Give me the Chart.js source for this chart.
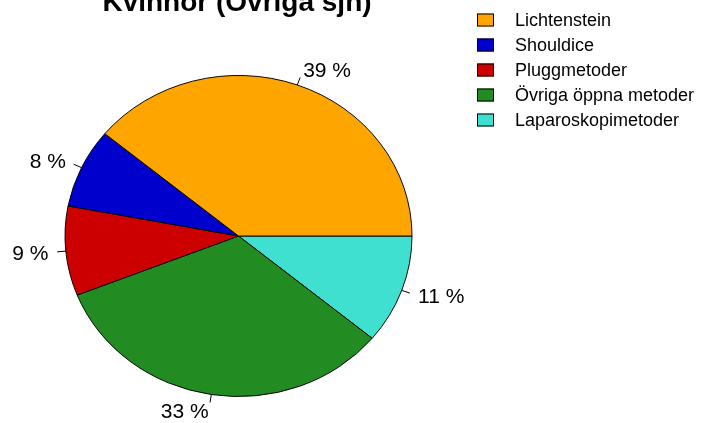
<!DOCTYPE html>
<html>
<head>
<meta charset="utf-8">
<script src="https://cdn.jsdelivr.net/npm/chart.js@4"></script>
<style>
html,body{margin:0;padding:0;background:#fff}
#wrap{width:703px;height:423px}
</style>
</head>
<body>
<div id="wrap"><canvas id="pie" width="703" height="423"></canvas></div>
<script>
// data, in the order of the legend (R draws it counterclockwise from 3 o'clock)
const methods = ['Lichtenstein', 'Shouldice', 'Pluggmetoder', 'Övriga öppna metoder', 'Laparoskopimetoder'];
const shares = [39, 8, 9, 33, 11];
const colors = ['#FFA500', '#0000CD', '#CD0000', '#228B22', '#40E0D0'];
const chartTitle = 'Kvinnor (Övriga sjh)';

const FONT = '"Liberation Sans", Arial, Helvetica, sans-serif';
const SQUASH = 161 / 174; // pie is a bit flatter than wide
const LABEL_PX = 21;

// Chart.js goes clockwise, so feed it reversed to get R's counterclockwise order
const drawOrder = shares.map((v, i) => i).reverse();

function centre(chart) {
  const arc = chart.getDatasetMeta(0).data[0];
  return {x: arc.x, y: arc.y, r: arc.outerRadius};
}

const squash = {
  id: 'squash',
  beforeDatasetsDraw(chart) {
    const c = centre(chart), ctx = chart.ctx;
    ctx.save();
    ctx.translate(c.x, c.y);
    ctx.scale(1, SQUASH);
    ctx.translate(-c.x, -c.y);
  },
  afterDatasetsDraw(chart) {
    chart.ctx.restore();
  }
};

const extras = {
  id: 'extras',
  afterDraw(chart) {
    const ctx = chart.ctx;
    const c = centre(chart);
    const meta = chart.getDatasetMeta(0);

    // slice labels with little ticks
    ctx.save();
    ctx.strokeStyle = '#000';
    ctx.lineWidth = 1;
    ctx.fillStyle = '#000';
    ctx.font = LABEL_PX + 'px ' + FONT;
    ctx.textBaseline = 'alphabetic';
    meta.data.forEach((arc, j) => {
      const k = drawOrder[j];
      const m = (arc.startAngle + arc.endAngle) / 2;
      const px = f => c.x + c.r * f * Math.cos(m);
      const py = f => c.y + c.r * f * Math.sin(m) * SQUASH;
      ctx.beginPath();
      ctx.moveTo(px(1), py(1));
      ctx.lineTo(px(1.05), py(1.05));
      ctx.stroke();
      ctx.textAlign = Math.cos(m) < 0 ? 'right' : 'left';
      // centre the digits' height on the anchor, as R does
      ctx.fillText(shares[k] + ' %', px(1.1), py(1.1) + LABEL_PX * 0.36);
    });

    // title, mostly above the top edge like the original
    ctx.font = 'bold 28px ' + FONT;
    ctx.textAlign = 'center';
    ctx.fillText(chartTitle, 237, 11);

    // legend
    ctx.font = '18px ' + FONT;
    ctx.textAlign = 'left';
    ctx.textBaseline = 'middle';
    methods.forEach((name, i) => {
      const y = 20 + i * 25;
      ctx.fillStyle = colors[i];
      ctx.fillRect(477, y - 6.5, 17, 13);
      ctx.strokeStyle = '#000';
      ctx.strokeRect(477.5, y - 6, 16, 12);
      ctx.fillStyle = '#000';
      ctx.fillText(name, 515, y + 1);
    });
    ctx.restore();
  }
};

new Chart(document.getElementById('pie'), {
  type: 'pie',
  data: {
    labels: drawOrder.map(i => methods[i]),
    datasets: [{
      data: drawOrder.map(i => shares[i]),
      backgroundColor: drawOrder.map(i => colors[i]),
      borderColor: '#000',
      borderWidth: 1
    }]
  },
  options: {
    responsive: false,
    animation: false,
    rotation: 90,
    layout: {padding: {left: 64, right: 290, top: 62, bottom: 13}},
    events: [],
    plugins: {
      legend: {display: false},
      title: {display: false},
      tooltip: {enabled: false}
    }
  },
  plugins: [squash, extras]
});
</script>
</body>
</html>
